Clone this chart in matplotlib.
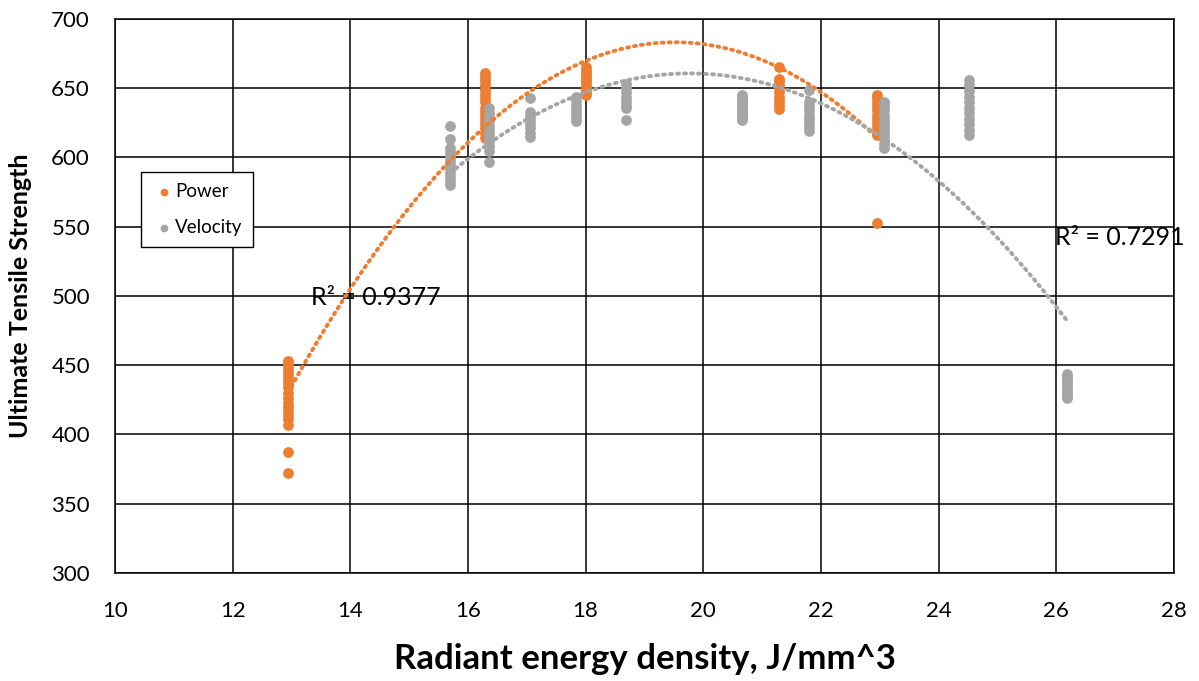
import numpy as np
import matplotlib
matplotlib.use("Agg")
import matplotlib.pyplot as plt

plt.rcParams['font.family'] = ['Lato', 'DejaVu Sans']

# Power series: x positions and UTS values per cluster
power_x = [12.94, 16.29, 18.0, 21.28, 22.96]
power_y = [
    [453, 451, 449, 446, 443, 440, 437, 434, 430, 426, 423, 420, 417, 414, 411, 407, 387, 372],
    [661, 659, 657, 655, 652, 649, 646, 643, 640, 636, 633, 630, 627, 624, 621, 618, 614],
    [665, 663, 661, 659, 657, 655, 653, 651, 649, 647, 645],
    [665, 657, 655, 652, 650, 647, 644, 641, 638, 635],
    [645, 643, 640, 637, 634, 631, 628, 625, 622, 619, 616, 553],
]

# Velocity series
vel_x = [15.70, 16.36, 17.06, 17.84, 18.69, 20.66, 21.80, 23.08, 24.52, 26.19]
vel_y = [
    [623, 613, 607, 604, 601, 598, 595, 592, 589, 586, 583, 580],
    [636, 632, 629, 626, 623, 620, 617, 614, 611, 608, 605, 597],
    [643, 633, 630, 627, 624, 621, 618, 615],
    [644, 641, 638, 635, 632, 629, 626],
    [653, 650, 647, 644, 641, 638, 636, 627],
    [645, 644, 643, 641, 640, 639, 637, 636, 635, 633, 632, 631, 629, 628, 627],
    [649, 640, 637, 634, 631, 628, 625, 622, 619],
    [640, 637, 634, 631, 628, 625, 622, 619, 616, 613, 610, 607],
    [656, 652, 648, 644, 640, 636, 632, 628, 624, 620, 616],
    [444, 442, 440, 439, 437, 435, 433, 431, 430, 428, 426],
]

r2_power = "R² = 0.9377"
r2_vel = "R² = 0.7291"

orange = "#ED7D31"
gray = "#A5A5A5"


def flatten(xs, ys):
    fx, fy = [], []
    for x, vals in zip(xs, ys):
        fx += [x] * len(vals)
        fy += vals
    return np.array(fx), np.array(fy, dtype=float)


px, py = flatten(power_x, power_y)
vx, vy = flatten(vel_x, vel_y)

fig = plt.figure(figsize=(11.99, 6.81), dpi=100)
ax = fig.add_axes([0.0959, 0.1586, 0.8832, 0.8135])

ax.scatter(px, py, s=60, color=orange, label="Power", zorder=3, linewidths=0)
ax.scatter(vx, vy, s=60, color=gray, label="Velocity", zorder=3, linewidths=0)

# quadratic trendlines
for x, y, c in [(px, py, orange), (vx, vy, gray)]:
    coef = np.polyfit(x, y, 2)
    xx = np.linspace(x.min(), x.max(), 200)
    ax.plot(xx, np.polyval(coef, xx), color=c, lw=2.8,
            linestyle=(0, (0.5, 1.3)), dash_capstyle='round', zorder=4)

ax.text(13.33, 499, r2_power, fontsize=18, va='center', ha='left')
ax.text(25.98, 542, r2_vel, fontsize=18, va='center', ha='left')

ax.set_xlim(10, 28)
ax.set_ylim(300, 700)
ax.set_xticks(np.arange(10, 29, 2))
ax.set_yticks(np.arange(300, 701, 50))
ax.grid(True, color='black', lw=1.1)
ax.set_axisbelow(True)
for s in ax.spines.values():
    s.set_color('black')
    s.set_linewidth(1.1)
ax.tick_params(length=0, labelsize=16)
ax.tick_params(axis='x', pad=20)
ax.tick_params(axis='y', pad=18)

ax.set_xlabel("Radiant energy density, J/mm^3", fontsize=25, fontweight='bold', labelpad=16)
ax.set_ylabel("Ultimate Tensile Strength", fontsize=18, fontweight='bold', labelpad=14)

leg = ax.legend(loc='upper left', bbox_to_anchor=(0.0246, 0.7238), borderaxespad=0,
                fontsize=13.5, frameon=True, fancybox=False, edgecolor='black',
                framealpha=1, handletextpad=0.0, borderpad=0.6, labelspacing=1.0,
                markerscale=0.72, handlelength=1.2)
leg.get_frame().set_linewidth(1.0)

fig.savefig("out.png", dpi=100)
